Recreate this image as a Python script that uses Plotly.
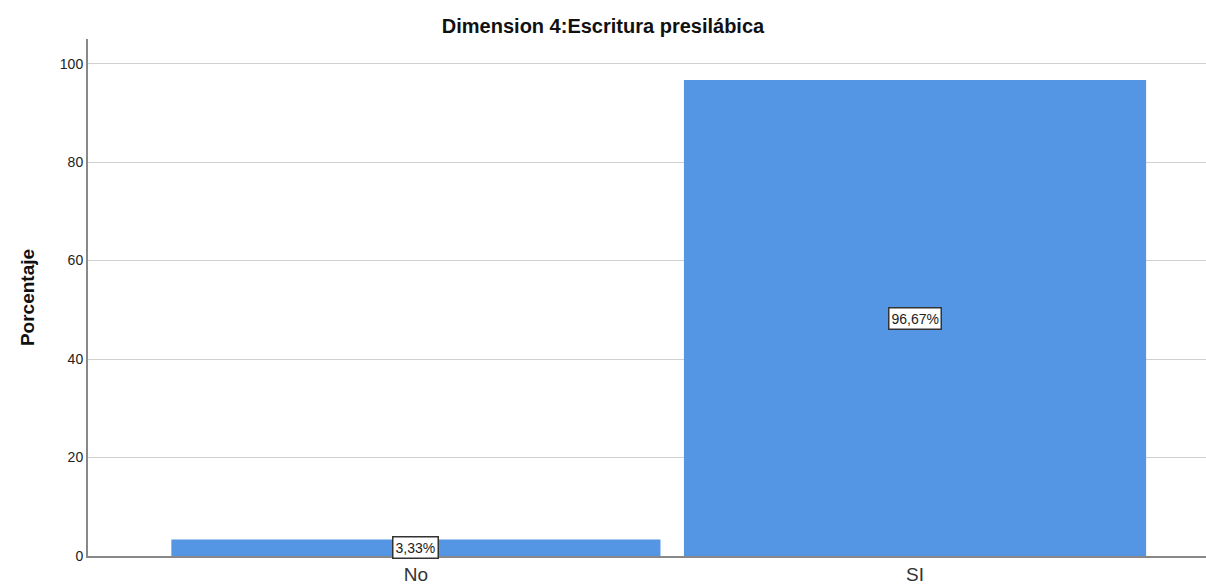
import plotly.graph_objects as go

categories = ["No", "SI"]
values = [3.33, 96.67]
labels = ["3,33%", "96,67%"]
title = "Dimension 4:Escritura presilábica"
y_title = "Porcentaje"
y_ticks = [0, 20, 40, 60, 80, 100]

bar_color = "#5596E4"
FONT = "Arial, Liberation Sans, sans-serif"

fig = go.Figure()
fig.add_trace(go.Bar(
    x=categories, y=values,
    width=[0.98, 0.926],
    marker=dict(color=bar_color, line=dict(width=0)),
    hoverinfo="skip",
))

for c, v, t in zip(categories, values, labels):
    fig.add_annotation(
        x=c, y=v / 2, text=t, showarrow=False,
        font=dict(family=FONT, size=14, color="#222222"),
        bgcolor="white", bordercolor="#333333", borderwidth=1.5, borderpad=2,
    )

fig.update_layout(
    width=1206, height=585,
    margin=dict(l=88, r=0, t=39, b=29),
    paper_bgcolor="white", plot_bgcolor="white",
    showlegend=False,
    title=dict(text="<b>" + title + "</b>", x=0.5, xanchor="center", y=0.955, yanchor="middle",
               font=dict(family=FONT, size=20, color="#111111")),
    font=dict(family=FONT),
)

fig.update_xaxes(
    range=[-0.657, 1.583],
    showgrid=False, showline=True, linecolor="#888888", linewidth=2,
    ticks="", tickfont=dict(size=19, color="#333333"),
    zeroline=False,
)
fig.update_yaxes(
    range=[0, 105], tickvals=y_ticks,
    showgrid=True, gridcolor="#D0D0D0", gridwidth=1,
    showline=True, linecolor="#888888", linewidth=2,
    ticks="", tickfont=dict(size=14, color="#222222"),
    title=dict(text="<b>" + y_title + "</b>", font=dict(size=19, color="#111111"), standoff=20),
    zeroline=False,
)

fig.write_html("out.html", config={"displayModeBar": False},
               post_script="document.body.style.margin='0';")
